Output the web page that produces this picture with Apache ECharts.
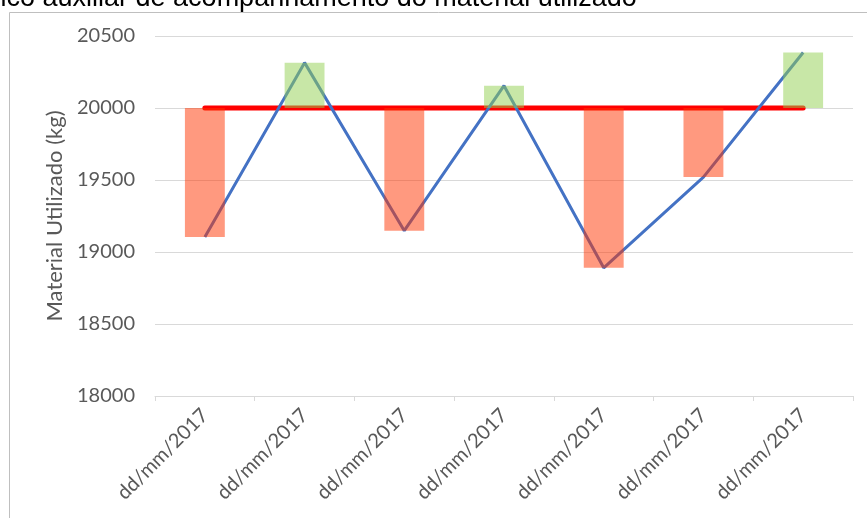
<!DOCTYPE html>
<html>
<head>
<meta charset="utf-8">
<script src="https://cdn.jsdelivr.net/npm/echarts@6/dist/echarts.min.js"></script>
<style>
  html, body { margin: 0; padding: 0; background: #fff; }
  #chart { width: 867px; height: 518px; }
</style>
</head>
<body>
<div id="chart"></div>
<script>
// Datas de medição (rótulos do eixo X)
const categories = ['dd/mm/2017', 'dd/mm/2017', 'dd/mm/2017', 'dd/mm/2017', 'dd/mm/2017', 'dd/mm/2017', 'dd/mm/2017'];
// Material utilizado em cada data (kg)
const materialUsed = [19105, 20315, 19148, 20155, 18890, 19520, 20385];
// Meta de consumo (kg)
const targetValue = 20000;
const targetLine = categories.map(() => targetValue);
// Eixo Y
const yMin = 18000, yMax = 20500, yStep = 500;

const labelFont = 'Lato, "Noto Sans", sans-serif';
const grey = '#595959';

const chart = echarts.init(document.getElementById('chart'), null, { renderer: 'canvas' });

chart.setOption({
  animation: false,
  backgroundColor: '#ffffff',
  graphic: [
    {
      type: 'rect',
      shape: { x: 9.5, y: 12.5, width: 900, height: 600 },
      style: { fill: 'none', stroke: '#BFBFBF', lineWidth: 1 },
      silent: true,
      z: -10
    },
    {
      type: 'text',
      x: -52,
      y: -1,
      style: {
        text: 'Gráfico auxiliar de acompanhamento do material utilizado',
        font: '27px Arial, "Liberation Sans", sans-serif',
        fill: '#000',
        verticalAlign: 'middle'
      },
      silent: true,
      z: 10
    }
  ],
  grid: { left: 155, right: 14, top: 36, bottom: 122 },
  xAxis: {
    type: 'category',
    data: categories,
    axisLine: { lineStyle: { color: '#D9D9D9', width: 1 } },
    axisTick: { show: true, length: 5, lineStyle: { color: '#D9D9D9' } },
    axisLabel: {
      rotate: 45,
      interval: 0,
      margin: 16,
      color: grey,
      fontFamily: labelFont,
      fontSize: 20
    }
  },
  yAxis: {
    type: 'value',
    min: yMin,
    max: yMax,
    interval: yStep,
    name: 'Material Utilizado (kg)',
    nameLocation: 'middle',
    nameGap: 84,
    nameTextStyle: { color: grey, fontFamily: labelFont, fontSize: 22 },
    axisLine: { show: false },
    axisTick: { show: false },
    axisLabel: { color: grey, fontFamily: labelFont, fontSize: 20, margin: 20, formatter: (v) => String(v) },
    splitLine: { lineStyle: { color: '#D9D9D9', width: 1 } }
  },
  series: [
    {
      name: 'Meta',
      type: 'line',
      data: targetLine,
      symbol: 'none',
      lineStyle: { color: '#FF0000', width: 5, cap: 'round' },
      z: 2
    },
    {
      name: 'Material',
      type: 'line',
      data: materialUsed,
      symbol: 'none',
      lineStyle: { color: '#4472C4', width: 3 },
      z: 3
    },
    {
      name: 'Desvio',
      type: 'custom',
      data: materialUsed.map((v, i) => [i, v]),
      encode: { x: 0, y: 1 },
      z: 4,
      renderItem: function (params, api) {
        const idx = api.value(0);
        const val = api.value(1);
        const top = api.coord([idx, Math.max(val, targetValue)]);
        const bottom = api.coord([idx, Math.min(val, targetValue)]);
        const w = api.size([1, 0])[0] * 0.4;
        return {
          type: 'rect',
          shape: { x: top[0] - w / 2, y: top[1], width: w, height: bottom[1] - top[1] },
          style: { fill: val >= targetValue ? 'rgba(146,208,80,0.5)' : 'rgba(255,51,0,0.5)' }
        };
      }
    }
  ]
});
</script>
</body>
</html>
